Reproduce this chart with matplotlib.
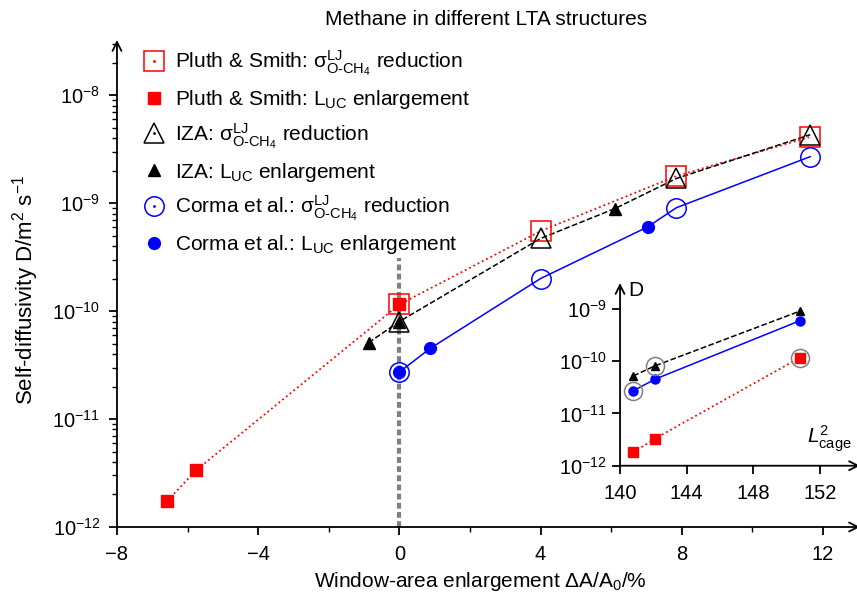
import numpy as np
import matplotlib
matplotlib.use('Agg')
import matplotlib.pyplot as plt
from matplotlib.lines import Line2D
from matplotlib.ticker import LogLocator, NullFormatter, MultipleLocator

plt.rcParams['font.family'] = ['Liberation Sans', 'DejaVu Sans']
plt.rcParams['mathtext.fontset'] = 'custom'
plt.rcParams['mathtext.rm'] = 'Liberation Sans'
plt.rcParams['mathtext.it'] = 'Liberation Sans:italic'
plt.rcParams['mathtext.bf'] = 'Liberation Sans:bold'

# main panel data (dA/A0 in %, D in m2/s)
ps_red_x = [0, 4, 7.85, 11.64]
ps_red_y = [1.15e-10, 5.5e-10, 1.78e-9, 4.1e-9]
ps_luc_x = [-6.57, -5.75, 0]
ps_luc_y = [1.75e-12, 3.37e-12, 1.15e-10]

iza_red_x = [0, 4, 7.85, 11.64]
iza_red_y = [8.0e-11, 4.7e-10, 1.69e-9, 4.3e-9]
iza_luc_x = [-0.87, 0, 6.11]
iza_luc_y = [5.1e-11, 8.0e-11, 8.9e-10]

corma_red_x = [0, 4, 7.85, 11.64]
corma_red_y = [2.72e-11, 2.0e-10, 9.06e-10, 2.69e-9]
corma_luc_x = [0, 0.87, 7.03]
corma_luc_y = [2.72e-11, 4.5e-11, 6.0e-10]

# inset data (L_cage^2)
ins_x = [140.8, 142.1, 150.8]
ins_ps_y = [1.8e-12, 3.3e-12, 1.16e-10]
ins_iza_y = [5.2e-11, 8.1e-11, 9.0e-10]
ins_corma_y = [2.7e-11, 4.5e-11, 5.9e-10]
ins_circ_x = [140.8, 142.1, 150.8]
ins_circ_y = [2.7e-11, 8.1e-11, 1.16e-10]


def joined(x1, y1, x2, y2):
    x = np.concatenate([x1, x2])
    y = np.concatenate([y1, y2])
    x, idx = np.unique(x, return_index=True)
    return x, y[idx]


def arrow_axes(ax, lw=1.3):
    for s in ['top', 'right', 'left', 'bottom']:
        ax.spines[s].set_visible(False)
    ap = dict(arrowstyle='->', lw=lw, color='black', shrinkA=0, shrinkB=0,
              mutation_scale=16)
    ax.annotate('', xy=(1, 0), xytext=(0, 0), xycoords='axes fraction',
                arrowprops=ap, annotation_clip=False)
    ax.annotate('', xy=(0, 1), xytext=(0, 0), xycoords='axes fraction',
                arrowprops=ap, annotation_clip=False)


fig = plt.figure(figsize=(8.57, 5.99), dpi=100)
ax = fig.add_axes([0.1365, 0.1202, 0.867, 0.813])

red = '#ff0000'
blue = '#0000ff'

# vertical guide at 0
ax.plot([0, 0], [1e-12, 3.1e-10], color='#808080', lw=3,
        linestyle=(0, (1.4, 0.8)), zorder=1)

x, y = joined(ps_luc_x, ps_luc_y, ps_red_x, ps_red_y)
ax.plot(x, y, color=red, ls=':', lw=1.3, zorder=2)
x, y = joined(iza_luc_x, iza_luc_y, iza_red_x, iza_red_y)
ax.plot(x, y, color='black', ls='--', lw=1.1, zorder=2)
x, y = joined(corma_luc_x, corma_luc_y, corma_red_x, corma_red_y)
ax.plot(x, y, color=blue, ls='-', lw=1.1, zorder=2)

ax.plot(ps_red_x, ps_red_y, 's', ms=14, mfc='none', mec=red, mew=1.1, zorder=3)
ax.plot(ps_luc_x, ps_luc_y, 's', ms=9, color=red, zorder=4)
ax.plot(iza_red_x, iza_red_y, '^', ms=15, mfc='none', mec='black', mew=1.1, zorder=3)
ax.plot(iza_luc_x, iza_luc_y, '^', ms=8, color='black', zorder=4)
ax.plot(corma_red_x, corma_red_y, 'o', ms=14, mfc='none', mec=blue, mew=1.1, zorder=3)
ax.plot(corma_luc_x, corma_luc_y, 'o', ms=8.5, color=blue, zorder=4)

ax.set_yscale('log')
ax.set_xlim(-8, 13.05)
ax.set_ylim(1e-12, 10 ** -7.49)
ax.xaxis.set_major_locator(MultipleLocator(4))
ax.xaxis.set_minor_locator(MultipleLocator(2))
ax.yaxis.set_major_locator(LogLocator(base=10, numticks=10))
ax.yaxis.set_minor_locator(LogLocator(base=10, subs=np.arange(2, 10), numticks=10))
ax.yaxis.set_minor_formatter(NullFormatter())
ax.tick_params(which='major', direction='out', length=6, width=1.3, labelsize=14.5)
ax.tick_params(axis='x', which='major', pad=7)
ax.tick_params(axis='y', which='major', pad=6)
ax.tick_params(which='minor', direction='out', length=3.5, width=1.0)
arrow_axes(ax)

sig = r'$\mathrm{σ}^{\mathrm{LJ}}_{\mathrm{O\text{-}CH_4}}$'
luc = r'L$_{\mathrm{UC}}$'
dot = lambda c: Line2D([], [], marker='.', ms=2, color=c, ls='none')
handles = [
    (Line2D([], [], marker='s', ms=14, mfc='none', mec=red, mew=1.1, ls='none'), dot(red)),
    Line2D([], [], marker='s', ms=9, color=red, ls='none'),
    (Line2D([], [], marker='^', ms=15, mfc='none', mec='black', mew=1.1, ls='none'), dot('black')),
    Line2D([], [], marker='^', ms=8, color='black', ls='none'),
    (Line2D([], [], marker='o', ms=14, mfc='none', mec=blue, mew=1.1, ls='none'), dot(blue)),
    Line2D([], [], marker='o', ms=8.5, color=blue, ls='none'),
]
labels = [
    'Pluth & Smith: ' + sig + ' reduction',
    'Pluth & Smith: ' + luc + ' enlargement',
    'IZA: ' + sig + ' reduction',
    'IZA: ' + luc + ' enlargement',
    'Corma et al.: ' + sig + ' reduction',
    'Corma et al.: ' + luc + ' enlargement',
]
ax.legend(handles, labels, loc='upper left', bbox_to_anchor=(0.025, 1.0),
          frameon=False, fontsize=15, handlelength=1.0, handletextpad=0.5,
          labelspacing=0.48, borderaxespad=0)

fig.text(0.567, 0.968, 'Methane in different LTA structures', ha='center',
         va='center', fontsize=15)
fig.text(0.03, 0.516, r'Self-diffusivity D/m$^2$ s$^{-1}$', rotation=90,
         ha='center', va='center', fontsize=16)
fig.text(0.561, 0.03, r'Window-area enlargement $\Delta$A/A$_0$/%', ha='center',
         va='center', fontsize=15)

# inset
ax2 = fig.add_axes([0.7235, 0.2225, 0.28, 0.305])
ax2.plot(ins_x, ins_ps_y, color=red, ls=':', lw=1.3, marker='s', ms=6.5)
ax2.plot(ins_x, ins_iza_y, color='black', ls='--', lw=1.1, marker='^', ms=6)
ax2.plot(ins_x, ins_corma_y, color=blue, ls='-', lw=1.1, marker='o', ms=6.5)
ax2.plot(ins_circ_x, ins_circ_y, 'o', ms=13, mfc='none', mec='#808080', mew=1.1)
ax2.set_yscale('log')
ax2.set_xlim(140, 154.4)
ax2.set_ylim(1e-12, 10 ** -8.51)
ax2.xaxis.set_major_locator(MultipleLocator(4))
ax2.yaxis.set_major_locator(LogLocator(base=10, numticks=10))
ax2.yaxis.set_minor_locator(plt.NullLocator())
ax2.tick_params(which='major', direction='out', length=6, width=1.3, labelsize=14.5)
ax2.tick_params(axis='x', which='major', pad=7)
ax2.patch.set_alpha(0)
arrow_axes(ax2)
ax2.text(0.035, 0.96, 'D', transform=ax2.transAxes, ha='left', va='center', fontsize=15)
ax2.text(0.78, 0.15, r'$L^2_{\mathrm{cage}}$', transform=ax2.transAxes, ha='left',
         va='center', fontsize=15)

fig.savefig('out.png', dpi=100)
